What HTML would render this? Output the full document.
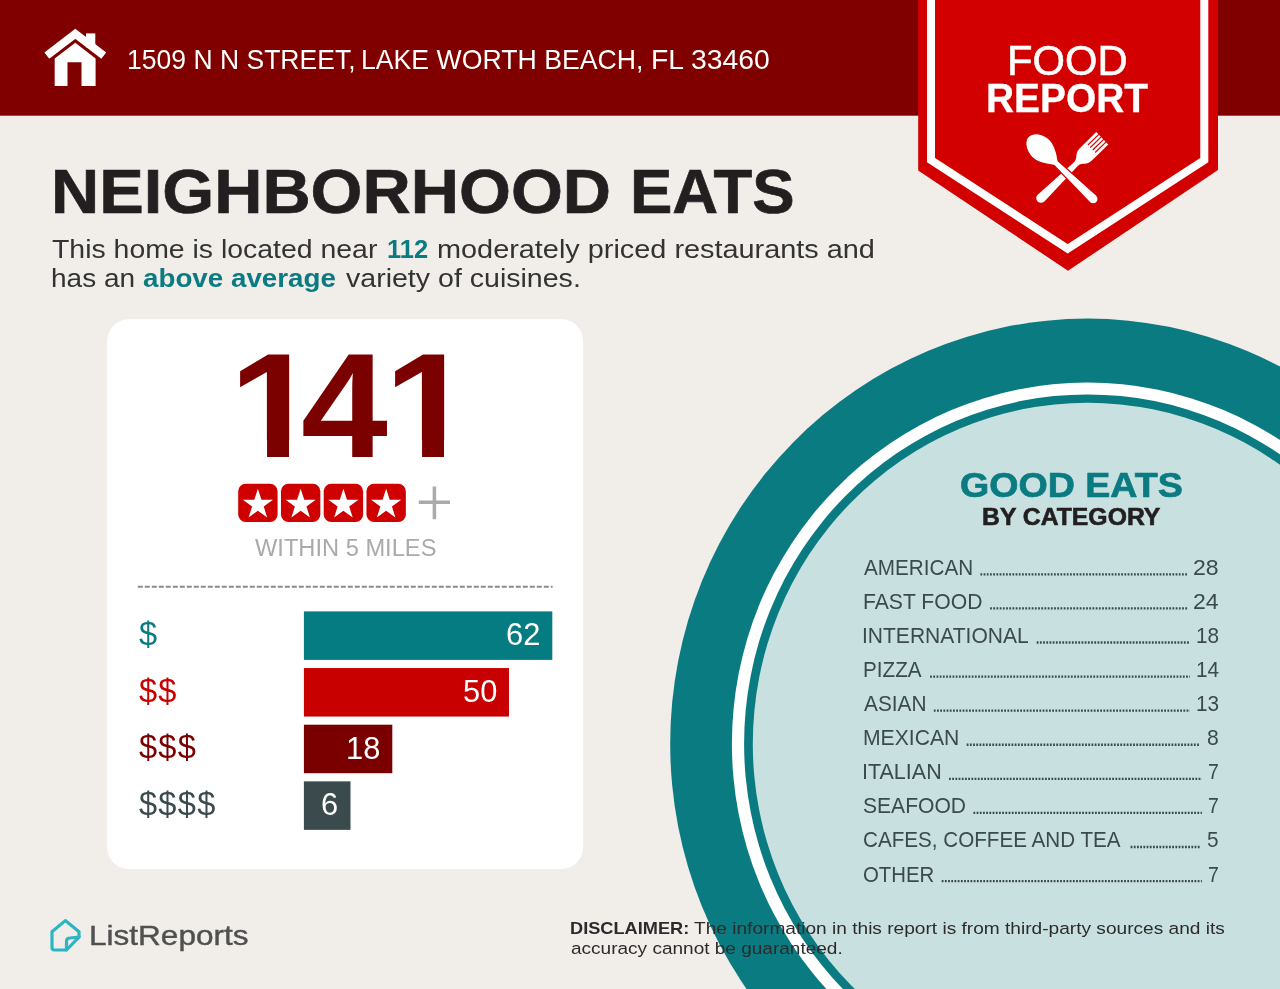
<!DOCTYPE html>
<html lang="en">
<head>
<meta charset="utf-8">
<title>Food Report - Neighborhood Eats</title>
<style>
html,body{margin:0;padding:0;}
body{width:1280px;height:989px;overflow:hidden;background:#f1ede9;font-family:"Liberation Sans",sans-serif;}
#page{position:relative;width:1280px;height:989px;overflow:hidden;background:#f1ede9;}
.art{position:absolute;left:0;top:0;display:block;}
.t{position:absolute;white-space:nowrap;line-height:1;transform-origin:0 0;margin:0;}
.t b{font-weight:700;}
#big{position:absolute;left:0;margin:0;font-weight:700;color:#7b0000;line-height:1;white-space:nowrap;}
#big span{position:absolute;top:0;display:block;transform-origin:0 0;}
</style>
</head>
<body>
<div id="page">
<svg class="art" width="1280" height="989" viewBox="0 0 1280 989">
<ellipse cx="1087.5" cy="743.8" rx="417.3" ry="425.2" fill="#0b7b82"/>
<ellipse cx="1087.5" cy="743.8" rx="355.6" ry="361.2" fill="#ffffff"/>
<ellipse cx="1087.5" cy="743.8" rx="343.4" ry="349.4" fill="#0b7b82"/>
<ellipse cx="1087.5" cy="743.8" rx="334.7" ry="341" fill="#c8e0df"/>
<rect x="0" y="0" width="1280" height="115.7" fill="#800000"/>
<polygon points="918.2,0 1218,0 1218,170 1068,270.8 918.2,170.4" fill="#d30000"/>
<polyline points="931,-5 931,160.2 1067.7,248.8 1204.3,160.2 1204.3,-5" fill="none" stroke="#ffffff" stroke-width="8" stroke-linejoin="miter"/>
<g transform="translate(1066.5 173.2)">
<g transform="rotate(45.7)"><path d="M-8.65,-50 L8.65,-50 L8.65,-27 C8.65,-19.5 3.4,-19.5 2.6,-13.5 L4.8,35.6 A4.8,4.8 0 0 1 -4.8,35.6 L-2.6,-13.5 C-3.4,-19.5 -8.65,-19.5 -8.65,-27 Z" fill="#fff"/><path d="M-5.2,-51 V-35 M-1.73,-51 V-35 M1.73,-51 V-35 M5.2,-51 V-35" stroke="#d30000" stroke-width="1.15" fill="none"/></g>
<g transform="rotate(-46)"><path d="M0,-53 C7,-53 12.6,-44 12.6,-35.5 C12.6,-26.5 7,-20 3,-14.5 L5,37 A5,5 0 0 1 -5,37 L-3,-14.5 C-7,-20 -12.6,-26.5 -12.6,-35.5 C-12.6,-44 -7,-53 0,-53 Z" fill="#fff" stroke="#d30000" stroke-width="1.2"/></g>
</g>
<g fill="#ffffff">
<polyline points="46.84,55.67 75.3,33.8 103.76,55.67" fill="none" stroke="#ffffff" stroke-width="8" stroke-linejoin="miter"/>
<rect x="86" y="33.4" width="9.3" height="14"/>
<path d="M54.7,86 L54.7,58.6 L75.3,42.8 L95.6,58.6 L95.6,86 L81.5,86 L81.5,62.3 L67.5,62.3 L67.5,86 Z"/>
</g>
<rect x="107.1" y="319.3" width="476" height="549.6" rx="21" ry="22" fill="#ffffff"/>
<rect x="238.20" y="483.7" width="39.4" height="38.2" rx="7.5" fill="#cf0000"/>
<polygon points="257.90,488.80 261.49,499.66 272.93,499.72 263.70,506.49 267.19,517.38 257.90,510.70 248.61,517.38 252.10,506.49 242.87,499.72 254.31,499.66" fill="#ffffff"/>
<rect x="280.95" y="483.7" width="39.4" height="38.2" rx="7.5" fill="#cf0000"/>
<polygon points="300.65,488.80 304.24,499.66 315.68,499.72 306.45,506.49 309.94,517.38 300.65,510.70 291.36,517.38 294.85,506.49 285.62,499.72 297.06,499.66" fill="#ffffff"/>
<rect x="323.70" y="483.7" width="39.4" height="38.2" rx="7.5" fill="#cf0000"/>
<polygon points="343.40,488.80 346.99,499.66 358.43,499.72 349.20,506.49 352.69,517.38 343.40,510.70 334.11,517.38 337.60,506.49 328.37,499.72 339.81,499.66" fill="#ffffff"/>
<rect x="366.45" y="483.7" width="39.4" height="38.2" rx="7.5" fill="#cf0000"/>
<polygon points="386.15,488.80 389.74,499.66 401.18,499.72 391.95,506.49 395.44,517.38 386.15,510.70 376.86,517.38 380.35,506.49 371.12,499.72 382.56,499.66" fill="#ffffff"/>
<path d="M418.8,502.3 H450 M434.4,486.6 V519.2" stroke="#aaaaaa" stroke-width="3.5" fill="none"/>
<line x1="137.8" y1="586.8" x2="552.6" y2="586.8" stroke="#8c8c8c" stroke-width="2.1" stroke-dasharray="5 2"/>
<rect x="303.9" y="611.40" width="248.40" height="48.5" fill="#057c82"/>
<rect x="303.9" y="668.05" width="205.10" height="48.5" fill="#c90000"/>
<rect x="303.9" y="724.70" width="88.40" height="48.5" fill="#7a0000"/>
<rect x="303.9" y="781.35" width="46.60" height="48.5" fill="#3b4a4c"/>
<line x1="980.4" y1="574.35" x2="1187.3" y2="574.35" stroke="#3b4a4c" stroke-width="2.3" stroke-dasharray="1.8 1.4"/>
<line x1="990.1" y1="608.43" x2="1187.3" y2="608.43" stroke="#3b4a4c" stroke-width="2.3" stroke-dasharray="1.8 1.4"/>
<line x1="1036.7" y1="642.51" x2="1190.0" y2="642.51" stroke="#3b4a4c" stroke-width="2.3" stroke-dasharray="1.8 1.4"/>
<line x1="930.1" y1="676.59" x2="1190.0" y2="676.59" stroke="#3b4a4c" stroke-width="2.3" stroke-dasharray="1.8 1.4"/>
<line x1="933.8" y1="710.67" x2="1190.0" y2="710.67" stroke="#3b4a4c" stroke-width="2.3" stroke-dasharray="1.8 1.4"/>
<line x1="966.7" y1="744.75" x2="1200.1" y2="744.75" stroke="#3b4a4c" stroke-width="2.3" stroke-dasharray="1.8 1.4"/>
<line x1="949.0" y1="778.83" x2="1201.9" y2="778.83" stroke="#3b4a4c" stroke-width="2.3" stroke-dasharray="1.8 1.4"/>
<line x1="973.4" y1="812.91" x2="1201.9" y2="812.91" stroke="#3b4a4c" stroke-width="2.3" stroke-dasharray="1.8 1.4"/>
<line x1="1130.6" y1="846.99" x2="1200.3" y2="846.99" stroke="#3b4a4c" stroke-width="2.3" stroke-dasharray="1.8 1.4"/>
<line x1="941.7" y1="881.07" x2="1201.9" y2="881.07" stroke="#3b4a4c" stroke-width="2.3" stroke-dasharray="1.8 1.4"/>
<g fill="none" stroke="#2bb5c6" stroke-width="3.2" stroke-linejoin="round" stroke-linecap="round">
<path d="M65.3,920.6 L52,931.8 L52,947.5 Q52,950 54.5,950 L66.5,950 L79,937.2 L79,931.8 Z"/>
<path d="M66.5,950 L66.5,941.5 Q66.5,938 70,938 L79,937.2"/>
</g>
</svg>
<div id="big" style="top:332.26px;font-size:147.6px"><span style="left:229.13px;transform:scaleX(1.100);clip-path:polygon(0 -20px,100% -20px,100% 107.48px,54.55px 107.48px,54.55px 200px,34.60px 200px,34.60px 107.48px,0 107.48px)">1</span><span style="left:300.64px;transform:scaleX(1.058)">4</span><span style="left:383.83px;transform:scaleX(1.100);clip-path:polygon(0 -20px,100% -20px,100% 107.48px,54.55px 107.48px,54.55px 200px,34.60px 200px,34.60px 107.48px,0 107.48px)">1</span></div>
<div class="t" id="addr1" style="left:126.93px;top:44.84px;font-size:28.3px;color:#ffffff;transform:scaleX(0.9375)">1509 N N STREET,</div>
<div class="t" id="addr2" style="left:361.32px;top:44.84px;font-size:28.3px;color:#ffffff;transform:scaleX(0.9418)">LAKE WORTH BEACH,</div>
<div class="t" id="addr3" style="left:650.90px;top:44.84px;font-size:28.3px;color:#ffffff;transform:scaleX(1.0014)">FL 33460</div>
<div class="t" id="food" style="left:1006.94px;top:39.59px;font-size:42.3px;color:#ffffff;-webkit-text-stroke:0.6px currentColor;transform:scaleX(0.9865)">FOOD</div>
<div class="t" id="report" style="left:985.96px;top:78.57px;font-size:40.2px;font-weight:700;color:#ffffff;-webkit-text-stroke:0.3px currentColor;transform:scaleX(0.9680)">REPORT</div>
<div class="t" id="title" style="left:50.70px;top:158.56px;font-size:63.6px;font-weight:700;color:#231f20;-webkit-text-stroke:0.7px currentColor;transform:scaleX(1.0497)">NEIGHBORHOOD</div>
<div class="t" id="title2" style="left:630.21px;top:158.56px;font-size:63.6px;font-weight:700;color:#231f20;-webkit-text-stroke:0.7px currentColor;transform:scaleX(0.9977)">EATS</div>
<div class="t" id="sub1a" style="left:51.90px;top:235.65px;font-size:26.4px;color:#333333;transform:scaleX(1.0768)">This home is located near</div>
<div class="t" id="sub1b" style="left:386.53px;top:235.65px;font-size:26.4px;font-weight:700;color:#0b7b82;transform:scaleX(0.9658)">112</div>
<div class="t" id="sub1c" style="left:436.91px;top:235.65px;font-size:26.4px;color:#333333;transform:scaleX(1.0935)">moderately priced restaurants and</div>
<div class="t" id="sub2a" style="left:50.84px;top:264.55px;font-size:26.4px;color:#333333;transform:scaleX(1.0606)">has an</div>
<div class="t" id="sub2b" style="left:142.50px;top:264.55px;font-size:26.4px;font-weight:700;color:#0b7b82;transform:scaleX(1.0520)">above average</div>
<div class="t" id="sub2c" style="left:345.50px;top:264.55px;font-size:26.4px;color:#333333;transform:scaleX(1.0817)">variety of cuisines.</div>
<div class="t" id="within" style="left:254.80px;top:536.95px;font-size:23.1px;color:#aaaaaa;transform:scaleX(1.0245)">WITHIN 5 MILES</div>
<div class="t" id="good" style="left:960.44px;top:468.06px;font-size:35.6px;font-weight:700;color:#0b7b82;-webkit-text-stroke:0.7px currentColor;transform:scaleX(1.0564)">GOOD EATS</div>
<div class="t" id="bycat" style="left:981.77px;top:505.20px;font-size:24.1px;font-weight:700;color:#231f20;-webkit-text-stroke:0.6px currentColor;transform:scaleX(1.0275)">BY CATEGORY</div>
<div class="t" id="l0" style="left:863.70px;top:556.79px;font-size:22.1px;color:#3b4a4c;transform:scaleX(0.9355)">AMERICAN</div>
<div class="t" id="n0" style="left:1193.26px;top:556.79px;font-size:22.1px;color:#3b4a4c;transform:scaleX(1.0435)">28</div>
<div class="t" id="l1" style="left:862.74px;top:590.87px;font-size:22.1px;color:#3b4a4c;transform:scaleX(0.9566)">FAST FOOD</div>
<div class="t" id="n1" style="left:1193.26px;top:590.87px;font-size:22.1px;color:#3b4a4c;transform:scaleX(1.0435)">24</div>
<div class="t" id="l2" style="left:861.80px;top:624.95px;font-size:22.1px;color:#3b4a4c;transform:scaleX(0.9517)">INTERNATIONAL</div>
<div class="t" id="n2" style="left:1195.77px;top:624.95px;font-size:22.1px;color:#3b4a4c;transform:scaleX(0.9400)">18</div>
<div class="t" id="l3" style="left:862.76px;top:659.03px;font-size:22.1px;color:#3b4a4c;transform:scaleX(0.9359)">PIZZA</div>
<div class="t" id="n3" style="left:1195.77px;top:659.03px;font-size:22.1px;color:#3b4a4c;transform:scaleX(0.9400)">14</div>
<div class="t" id="l4" style="left:863.70px;top:693.11px;font-size:22.1px;color:#3b4a4c;transform:scaleX(0.9427)">ASIAN</div>
<div class="t" id="n4" style="left:1195.77px;top:693.11px;font-size:22.1px;color:#3b4a4c;transform:scaleX(0.9400)">13</div>
<div class="t" id="l5" style="left:862.74px;top:727.19px;font-size:22.1px;color:#3b4a4c;transform:scaleX(0.9574)">MEXICAN</div>
<div class="t" id="n5" style="left:1207.10px;top:727.19px;font-size:22.1px;color:#3b4a4c;transform:scaleX(0.9583)">8</div>
<div class="t" id="l6" style="left:861.75px;top:761.27px;font-size:22.1px;color:#3b4a4c;transform:scaleX(0.9735)">ITALIAN</div>
<div class="t" id="n6" style="left:1208.02px;top:761.27px;font-size:22.1px;color:#3b4a4c;transform:scaleX(0.8818)">7</div>
<div class="t" id="l7" style="left:862.75px;top:795.35px;font-size:22.1px;color:#3b4a4c;transform:scaleX(0.9540)">SEAFOOD</div>
<div class="t" id="n7" style="left:1208.02px;top:795.35px;font-size:22.1px;color:#3b4a4c;transform:scaleX(0.8818)">7</div>
<div class="t" id="l8" style="left:862.77px;top:829.43px;font-size:22.1px;color:#3b4a4c;transform:scaleX(0.9339)">CAFES, COFFEE AND TEA</div>
<div class="t" id="n8" style="left:1207.30px;top:829.43px;font-size:22.1px;color:#3b4a4c;transform:scaleX(0.9417)">5</div>
<div class="t" id="l9" style="left:862.78px;top:863.51px;font-size:22.1px;color:#3b4a4c;transform:scaleX(0.9221)">OTHER</div>
<div class="t" id="n9" style="left:1208.02px;top:863.51px;font-size:22.1px;color:#3b4a4c;transform:scaleX(0.8818)">7</div>
<div class="t" id="dis1a" style="left:569.54px;top:919.72px;font-size:17.1px;font-weight:700;color:#2b2b2b;transform:scaleX(1.0638)">DISCLAIMER:</div>
<div class="t" id="dis1b" style="left:694.10px;top:919.72px;font-size:17.1px;color:#2b2b2b;transform:scaleX(1.1175)">The information in this report is from third-party sources and its</div>
<div class="t" id="dis2" style="left:570.60px;top:939.62px;font-size:17.1px;color:#2b2b2b;transform:scaleX(1.1126)">accuracy cannot be guaranteed.</div>
<div class="t" id="logo" style="left:88.90px;top:921.71px;font-size:27.4px;color:#505050;-webkit-text-stroke:0.4px currentColor;transform:scaleX(1.1514)">ListReports</div>
<div class="t" id="d0" style="left:138.90px;top:617.90px;font-size:32.6px;color:#0b7b82;letter-spacing:1.35px;transform:scaleX(1.0000)">$</div>
<div class="t" id="d1" style="left:138.90px;top:674.55px;font-size:32.6px;color:#c90000;letter-spacing:1.35px;transform:scaleX(1.0000)">$$</div>
<div class="t" id="d2" style="left:138.90px;top:731.20px;font-size:32.6px;color:#7a0000;letter-spacing:1.35px;transform:scaleX(1.0000)">$$$</div>
<div class="t" id="d3" style="left:138.90px;top:787.85px;font-size:32.6px;color:#3b4a4c;letter-spacing:1.35px;transform:scaleX(1.0000)">$$$$</div>
<div class="t" id="b0" style="left:505.96px;top:619.28px;font-size:31.8px;color:#ffffff;transform:scaleX(0.9700)">62</div>
<div class="t" id="b1" style="left:462.66px;top:675.93px;font-size:31.8px;color:#ffffff;transform:scaleX(0.9700)">50</div>
<div class="t" id="b2" style="left:345.96px;top:732.58px;font-size:31.8px;color:#ffffff;transform:scaleX(0.9700)">18</div>
<div class="t" id="b3" style="left:321.31px;top:789.23px;font-size:31.8px;color:#ffffff;transform:scaleX(0.9700)">6</div>
</div>
</body>
</html>
